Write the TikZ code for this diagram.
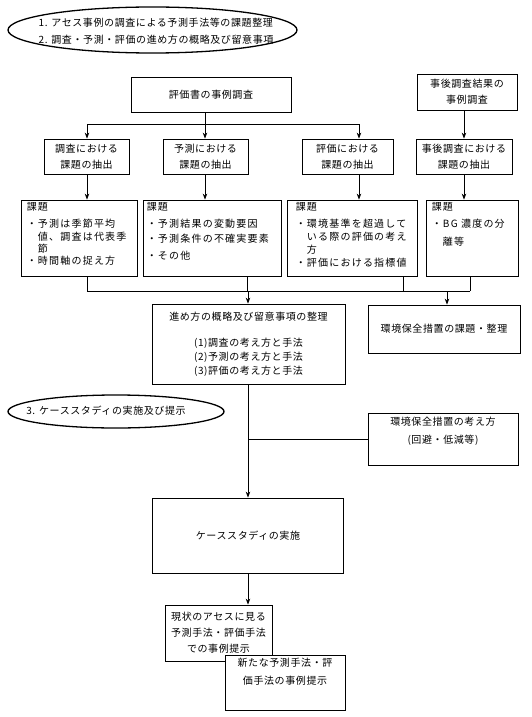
\documentclass[tikz,border=0pt]{standalone}
\usepackage{fontspec}
\setmainfont{Noto Sans CJK JP}[LetterSpace=6]
\newfontfamily\widejp{Noto Sans CJK JP}[LetterSpace=12]
\usetikzlibrary{arrows.meta,shapes.geometric}

\tikzset{
  box/.style={draw,line width=0.8pt,fill=white,inner sep=1pt,align=center,
    font=\fontsize{10}{16}\selectfont},
  wh/.style 2 args={minimum width=#1pt,minimum height=#2pt},
  oval/.style={draw,ellipse,line width=1.3pt,inner sep=0pt},
  note/.style={inner sep=0pt,align=left,anchor=north west,
    font=\widejp\fontsize{10}{13}\selectfont},
  caption/.style={inner sep=0pt,align=center,anchor=north,
    font=\fontsize{10}{18}\selectfont},
  flow/.style={line width=0.8pt},
  arr/.style={flow,-{Stealth[length=6pt,width=4.5pt]}},
}

\begin{document}
\begin{tikzpicture}[x=1pt,y=-1pt]
  \useasboundingbox (0,0) rectangle (532,717);

  % columns and buses
  \coordinate (c1) at (87,0);
  \coordinate (c2) at (205,0);
  \coordinate (c3) at (359,0);
  \coordinate (c4) at (464,0);
  \coordinate (d1) at (87,0);
  \coordinate (d2) at (247,0);
  \coordinate (d3) at (403,0);
  \coordinate (d4) at (470,0);
  \coordinate (spine) at (248,0);
  \coordinate (e1) at (447,0);
  \coordinate (bus1) at (0,124);
  \coordinate (bus2) at (0,291);

  % headings
  \node[oval,wh={289}{46}] (head1) at (152.5,30) {};
  \node[inner sep=0pt,align=left,font=\fontsize{10}{17}\selectfont] (head1txt) at (156,31)
    {1. アセス事例の調査による予測手法等の課題整理\\2. 調査・予測・評価の進め方の概略及び留意事項};
  \node[oval,wh={216}{33}] (head2) at (116,411.5) {};
  \node[inner sep=0pt,font=\fontsize{10}{17}\selectfont] (head2txt) at (106,411) {3. ケーススタディの実施及び提示};

  % row 1
  \node[box,wh={160}{35}] (survey) at (211,94.5) {評価書の事例調査};
  \node[box,wh={100}{36}] (postsurvey) at (467,92) {事後調査結果の\\事例調査};

  % row 2
  \node[box,wh={85}{35}] (ext1) at (86.5,156.5) {調査における\\課題の抽出};
  \node[box,wh={85}{35}] (ext2) at (205.5,156.5) {予測における\\課題の抽出};
  \node[box,wh={91}{35}] (ext3) at (347.5,156.5) {評価における\\課題の抽出};
  \node[box,wh={96}{35}] (ext4) at (464,156.5) {事後調査における\\課題の抽出};

  % row 3
  \node[box,wh={116}{76}] (issue1) at (79,238) {};
  \node[box,wh={138}{76}] (issue2) at (212,238) {};
  \node[box,wh={130}{76}] (issue3) at (352,238) {};
  \node[box,wh={92}{76}] (issue4) at (472,238) {};
  \node[note,xshift=6pt,yshift=-3pt] (t1) at (issue1.north west)
    {課題\\[4pt]・予測は季節平均\\　値、調査は代表季\\[-1pt]　節\\[-1pt]・時間軸の捉え方};
  \node[note,xshift=4pt,yshift=-3pt] (t2) at (issue2.north west)
    {課題\\[4pt]・予測結果の変動要因\\[2pt]・予測条件の不確実要素\\[4pt]・その他};
  \node[note,xshift=9pt,yshift=-3pt] (t3) at (issue3.north west)
    {課題\\[4pt]・環境基準を超過して\\　いる際の評価の考え\\　方\\・評価における指標値};
  \node[note,xshift=6pt,yshift=-3pt] (t4) at (issue4.north west)
    {課題\\[4pt]・BG 濃度の分\\[5pt]　離等};

  % row 4
  \node[box,wh={193}{80},font=\fontsize{10}{14}\selectfont] (arrange) at (248.5,344)
    {進め方の概略及び留意事項の整理\\[12pt](1)調査の考え方と手法\\(2)予測の考え方と手法\\(3)評価の考え方と手法};
  \node[box,wh={152}{48}] (env1) at (444,329) {環境保全措置の課題・整理};
  \node[box,wh={150}{52}] (env2) at (443,439) {};
  \node[caption,yshift=-4pt] (env2txt) at (env2.north) {環境保全措置の考え方\\(回避・低減等)};

  % case study
  \node[box,wh={191}{75}] (case) at (248,535.5) {ケーススタディの実施};
  \node[box,wh={107}{56},font=\fontsize{10}{16}\selectfont] (present1) at (218.5,633)
    {現状のアセスに見る\\予測手法・評価手法\\での事例提示};
  \node[box,wh={120}{55}] (present2) at (285,682.5) {};
  \node[caption,yshift=-3pt] (present2txt) at (present2.north) {新たな予測手法・評\\価手法の事例提示};

  % connectors
  \draw[arr] (survey.south -| c2) -- (ext2.north -| c2);
  \draw[flow] (c1 |- bus1) -- (c3 |- bus1);
  \draw[arr] (c1 |- bus1) -- (ext1.north -| c1);
  \draw[arr] (c3 |- bus1) -- (ext3.north -| c3);
  \draw[arr] (postsurvey.south -| c4) -- (ext4.north -| c4);
  \foreach \i in {1,...,4}
    \draw[arr] (ext\i.south -| c\i) -- (issue\i.north -| c\i);
  \foreach \i in {1,...,4}
    \draw[flow] (issue\i.south -| d\i) -- (d\i |- bus2);
  \draw[flow] (d1 |- bus2) -- (d4 |- bus2);
  \draw[arr] (spine |- bus2) -- (arrange.north -| spine);
  \draw[arr] (e1 |- bus2) -- (env1.north -| e1);
  \draw[arr] (arrange.south -| spine) -- (case.north -| spine);
  \draw[flow] (spine |- env2.west) -- (env2.west);
  \draw[arr] (case.south -| spine) -- (present1.north -| spine);
\end{tikzpicture}
\end{document}
